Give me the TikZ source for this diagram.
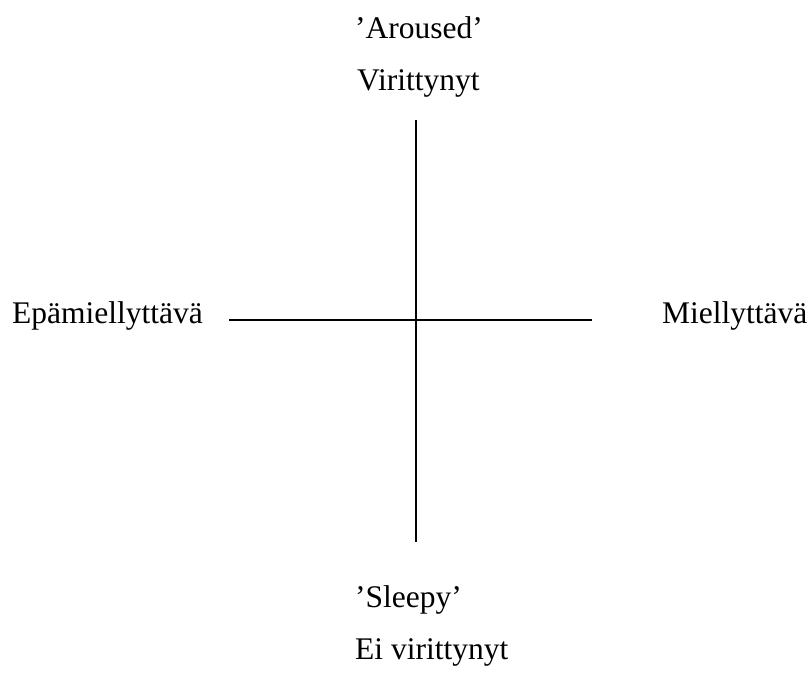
\documentclass[tikz,border=0pt]{standalone}
\usepackage{fontspec}
\setmainfont{Liberation Serif}
\begin{document}
\begin{tikzpicture}[x=1pt,y=-1pt,
  lbl/.style={anchor=base west,inner sep=0pt,font=\fontsize{31.5}{36}\selectfont},
  axis/.style={line width=2pt}]
\useasboundingbox (0,0) rectangle (810,677);
\node[lbl] (aroused) at (355,39) {’Aroused’};
\node[lbl] (vir) at (357,90) {Virittynyt};
\node[lbl] (epa) at (12,323) {Epämiellyttävä};
\node[lbl] (miel) at (662,323) {Miellyttävä};
\node[lbl] (sleepy) at (355,607) {’Sleepy’};
\node[lbl] (eivir) at (355,659) {Ei virittynyt};
\coordinate (top) at (416,120);
\coordinate (bot) at (416,542);
\coordinate (left) at (229,320);
\coordinate (right) at (592,320);
\draw[axis] (top) -- (bot);
\draw[axis] (left) -- (right);
\end{tikzpicture}
\end{document}
